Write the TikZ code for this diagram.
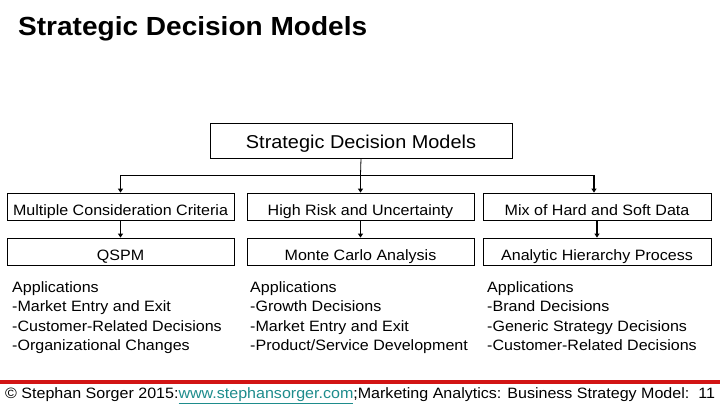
\documentclass[tikz,border=0pt]{standalone}
\usepackage{fontspec}
\setmainfont[FakeStretch=1.07]{Liberation Sans}
\usetikzlibrary{arrows.meta}
\definecolor{linkc}{RGB}{30,140,140}
\definecolor{redline}{RGB}{210,20,20}
\tikzset{
  box/.style={draw=black, line width=0.8pt, minimum height=27pt, inner sep=0pt, text height=19pt, text depth=1pt, font=\fontsize{15}{18}\selectfont},
  topbox/.style={draw=black, line width=0.8pt, minimum width=302pt, minimum height=35pt, inner sep=0pt, text height=17pt, text depth=2pt, font=\fontsize{18.6}{21}\selectfont},
  apptext/.style={anchor=north west, inner sep=0pt, align=left, font=\fontsize{15}{19.3}\selectfont},
  conn/.style={line width=0.8pt},
  arr/.style={line width=1.8pt, -{Triangle[length=4pt,width=5pt]}}
}
\begin{document}
\begin{tikzpicture}[x=1pt,y=-1pt]
\useasboundingbox (0,0) rectangle (720,405);
% title
\node[anchor=west, inner sep=0pt, font=\fontsize{26.2}{30}\bfseries\selectfont] (title) at (18,29) {Strategic Decision Models};
% top box
\node[topbox] (top) at (361,140.5) {Strategic Decision Models};
% row 1
\node[box, minimum width=227pt] (b1) at (120.5,206.5) {Multiple Consideration Criteria};
\node[box, minimum width=227pt] (b2) at (360.5,206.5) {High Risk and Uncertainty};
\node[box, minimum width=228pt] (b3) at (597,206.5) {Mix of Hard and Soft Data};
% row 2
\node[box, minimum width=227pt] (c1) at (120.5,251.5) {QSPM};
\node[box, minimum width=227pt] (c2) at (360.5,251.5) {Monte Carlo Analysis};
\node[box, minimum width=228pt] (c3) at (597,251.5) {Analytic Hierarchy Process};
% junctions
\coordinate (jm) at (360.5,175);
\coordinate (jl) at (120.5,175);
\coordinate (jr) at (594,175);
\draw[conn] (top.south) -- (jm);
\draw[conn] (jl) -- (jr);
\draw[arr] (jl) -- (b1.north);
\draw[arr] (jm) -- (b2.north);
\draw[arr] (jr) -- (jr |- b3.north);
\draw[arr] (b1.south) -- (c1.north);
\draw[arr] (b2.south) -- (c2.north);
\draw[arr] (b3.south) -- (c3.north);
% applications
\node[apptext] (a1) at (12,281.5) {Applications\\-Market Entry and Exit\\-Customer-Related Decisions\\-Organizational Changes};
\node[apptext] (a2) at (250,281.5) {Applications\\-Growth Decisions\\-Market Entry and Exit\\-Product/Service Development};
\node[apptext] (a3) at (487,281.5) {Applications\\-Brand Decisions\\-Generic Strategy Decisions\\-Customer-Related Decisions};
% footer
\draw[redline, line width=3.5pt] (0,382) -- (720,382);
\node[anchor=west, inner sep=0pt, font=\fontsize{15}{17}\selectfont] (foot) at (5,395.5) {© Stephan Sorger 2015:\textcolor{linkc}{\underline{www.stephansorger.com}};Marketing Analytics: Business Strategy Model:\ \ 11};
\end{tikzpicture}
\end{document}
